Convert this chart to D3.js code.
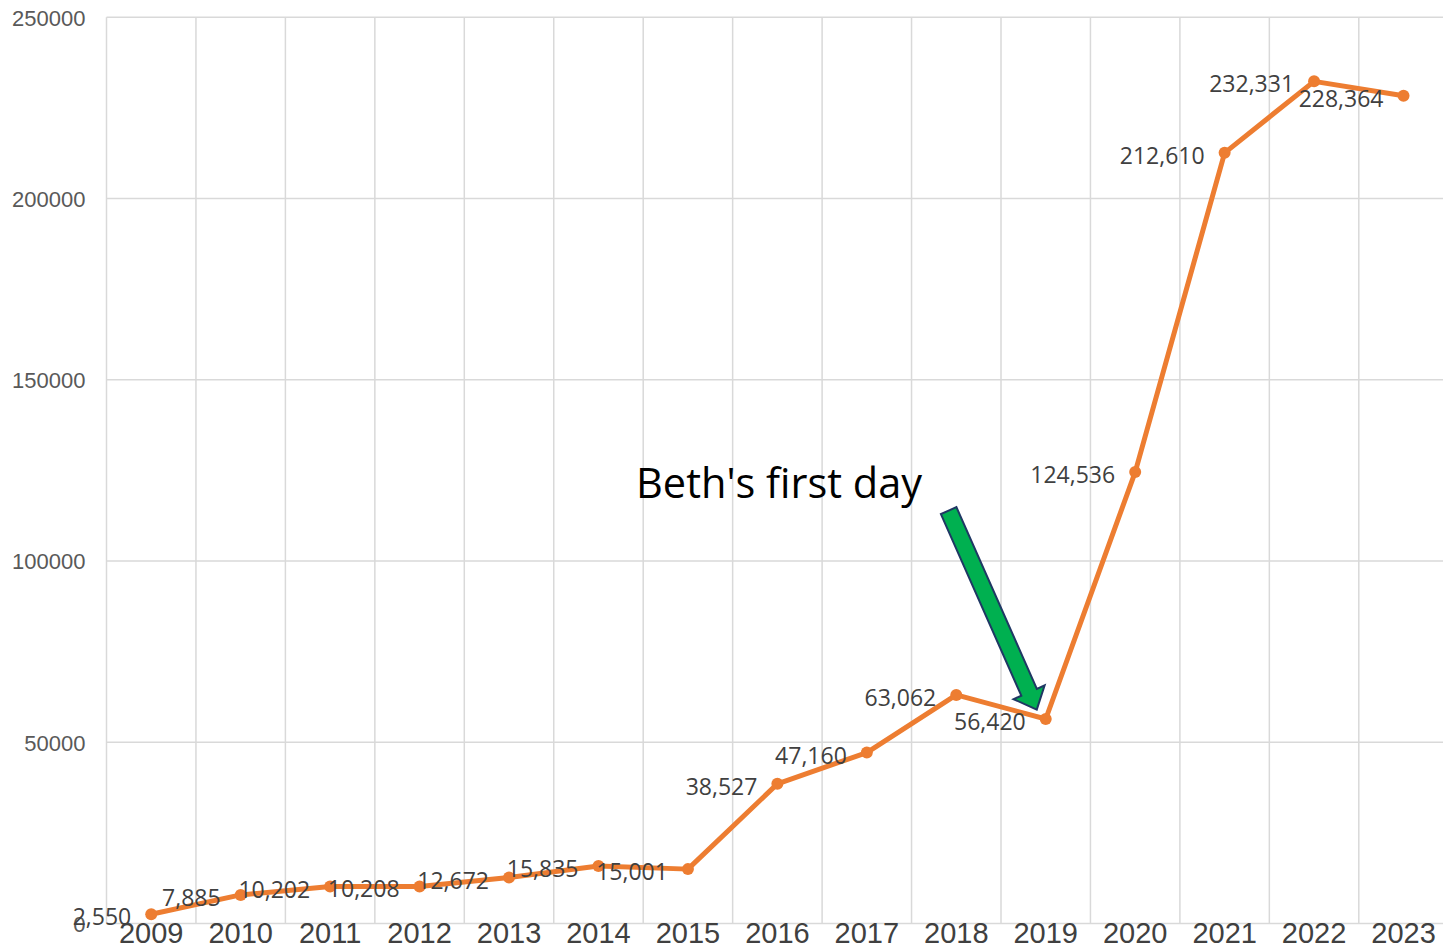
<!DOCTYPE html>
<html>
<head>
<meta charset="utf-8">
<script src="https://cdn.jsdelivr.net/npm/d3@7"></script>
<style>
  body { margin: 0; background: #fff; }
  svg { display: block; font-family: "Open Sans", "Noto Sans", sans-serif; }
</style>
</head>
<body>
<svg width="1443" height="948"></svg>
<script>
// chart values
const years = ["2009", "2010", "2011", "2012", "2013", "2014", "2015", "2016",
  "2017", "2018", "2019", "2020", "2021", "2022", "2023"];
const values = [2550, 7885, 10202, 10208, 12672, 15835, 15001, 38527,
  47160, 63062, 56420, 124536, 212610, 232331, 228364];
const yTicks = [0, 50000, 100000, 150000, 200000, 250000];

// annotation, positions given as (category index, value)
const noteText = "Beth's first day";
const notePos = [5.92, 117300];
const arrowFrom = [9.415, 113900];
const arrowTo = [10.4, 59000];

const svg = d3.select("svg"),
  width = +svg.attr("width"),
  height = +svg.attr("height");

const plotLeft = 106.5, plotTop = 17.3, plotBottom = 923.5, step = 89.45;

const x = d3.scaleBand()
  .domain(years)
  .range([plotLeft, plotLeft + step * years.length]);

const xIdx = d3.scaleLinear()
  .domain([0, years.length])
  .range(x.range());

const y = d3.scaleLinear()
  .domain([0, 250000])
  .range([plotBottom, plotTop]);

const cx = d => x(d) + x.bandwidth() / 2;

// gridlines
svg.append("g")
  .selectAll("line")
  .data(yTicks)
  .join("line")
  .attr("x1", plotLeft)
  .attr("x2", width)
  .attr("y1", d => y(d))
  .attr("y2", d => y(d))
  .attr("stroke", "#d9d9d9")
  .attr("stroke-width", 1.5);

svg.append("g")
  .selectAll("line")
  .data(years)
  .join("line")
  .attr("x1", d => x(d))
  .attr("x2", d => x(d))
  .attr("y1", plotTop)
  .attr("y2", plotBottom)
  .attr("stroke", "#d9d9d9")
  .attr("stroke-width", 1.5);

// y axis labels
const yAxis = svg.append("g")
  .attr("transform", `translate(${plotLeft - 21}, 0)`)
  .call(d3.axisLeft(y).tickValues(yTicks).tickSize(0).tickPadding(0).tickFormat(d3.format("d")));
yAxis.select(".domain").remove();
yAxis.selectAll("text")
  .attr("fill", "#595959")
  .style("font-size", "22px")
  .attr("dy", "0.36em");

// x axis labels
const xAxis = svg.append("g")
  .attr("transform", `translate(0, ${plotBottom})`)
  .call(d3.axisBottom(x).tickSize(0).tickPadding(0));
xAxis.select(".domain").remove();
xAxis.selectAll("text")
  .attr("fill", "#404040")
  .style("font-size", "29px")
  .attr("y", 19)
  .attr("dy", 0);

// the series
const line = d3.line()
  .x((d, i) => cx(years[i]))
  .y(d => y(d));

svg.append("path")
  .datum(values)
  .attr("d", line)
  .attr("fill", "none")
  .attr("stroke", "#ed7d31")
  .attr("stroke-width", 5)
  .attr("stroke-linejoin", "round");

svg.append("g")
  .selectAll("circle")
  .data(values)
  .join("circle")
  .attr("cx", (d, i) => cx(years[i]))
  .attr("cy", d => y(d))
  .attr("r", 6)
  .attr("fill", "#ed7d31");

// data labels, placed left of each point
svg.append("g")
  .selectAll("text")
  .data(values)
  .join("text")
  .attr("x", (d, i) => cx(years[i]) - 20)
  .attr("y", d => y(d) + 11)
  .attr("text-anchor", "end")
  .attr("fill", "#404040")
  .style("font-size", "23px")
  .text(d => d3.format(",")(d));

// annotation text
svg.append("text")
  .attr("x", xIdx(notePos[0]))
  .attr("y", y(notePos[1]))
  .attr("fill", "#000")
  .style("font-size", "41.5px")
  .text(noteText);

// block arrow
const x0 = xIdx(arrowFrom[0]), y0 = y(arrowFrom[1]);
const x1 = xIdx(arrowTo[0]), y1 = y(arrowTo[1]);
const len = Math.hypot(x1 - x0, y1 - y0);
const ang = Math.atan2(y1 - y0, x1 - x0) * 180 / Math.PI;
const sw = 8.5, hw = 17, hl = 19;

svg.append("path")
  .attr("d", d3.line()([
    [0, -sw], [len - hl, -sw], [len - hl, -hw], [len, 0],
    [len - hl, hw], [len - hl, sw], [0, sw]
  ]) + "Z")
  .attr("transform", `translate(${x0},${y0}) rotate(${ang})`)
  .attr("fill", "#00b050")
  .attr("stroke", "#1f3864")
  .attr("stroke-width", 2)
  .attr("stroke-linejoin", "miter");
</script>
</body>
</html>
